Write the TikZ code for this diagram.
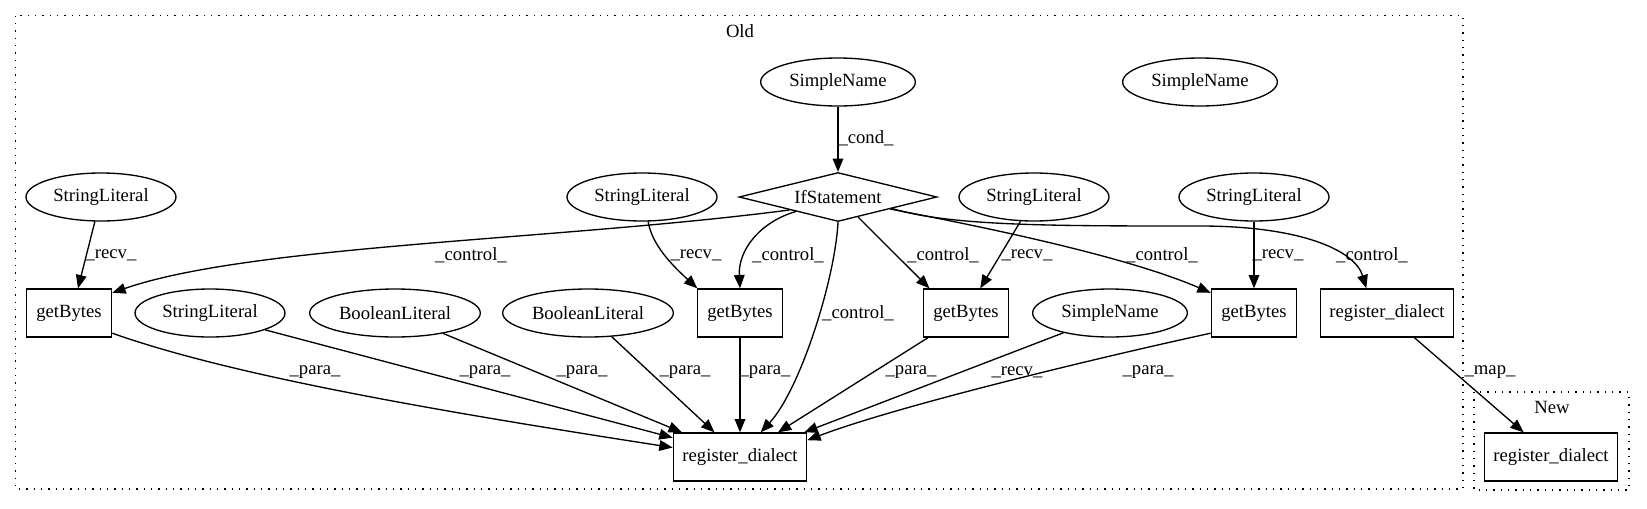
\documentclass[tikz,border=0pt]{standalone}
\usepackage{fontspec}
\setmainfont{Liberation Serif}
\usetikzlibrary{shapes.geometric,arrows.meta}
\begin{document}
\begin{tikzpicture}[x=0.75pt,y=-0.75pt,
  font=\fontsize{14pt}{16pt}\selectfont,
  ell/.style={draw, ellipse, line width=1pt, minimum height=36pt, inner sep=0pt},
  snode/.style={ell, minimum width=116pt},
  slnode/.style={ell, minimum width=112.5pt},
  blnode/.style={ell, minimum width=128pt},
  box/.style={draw, rectangle, line width=1pt, minimum height=36pt, inner sep=0pt},
  gbnode/.style={box, minimum width=64pt},
  rdnode/.style={box, minimum width=100pt},
  dia/.style={draw, diamond, aspect=4, line width=1pt, inner sep=0pt, minimum width=148.5pt, minimum height=36.75pt},
  lbl/.style={inner sep=0pt},
  arr/.style={line width=1pt, -{Triangle[length=10pt,width=8pt]}},
  cluster/.style={draw, line width=1pt, dash pattern=on 1pt off 4.5pt}
]
\useasboundingbox (0,0) rectangle (1647,508);
% clusters
\draw[cluster] (15.7,15.7) rectangle (1463,489);
\draw[cluster] (1474,392) rectangle (1629,490);
\node[lbl] (oldlbl) at (740,31) {Old};
\node[lbl] (newlbl) at (1552,407) {New};
% nodes
\node[snode] (sn1) at (838,82) {SimpleName};
\node[snode] (sn2) at (1200,82) {SimpleName};
\node[dia] (ifs) at (838,197) {IfStatement};
\node[slnode] (sl1) at (101,197) {StringLiteral};
\node[slnode] (sl2) at (642,197) {StringLiteral};
\node[slnode] (sl3) at (1034,197) {StringLiteral};
\node[slnode] (sl4) at (1254,197) {StringLiteral};
\node[gbnode] (gb1) at (69,313) {getBytes};
\node[slnode] (sl5) at (210,313) {StringLiteral};
\node[blnode] (bl1) at (395,313) {BooleanLiteral};
\node[blnode] (bl2) at (588,313) {BooleanLiteral};
\node[gbnode] (gb2) at (740,313) {getBytes};
\node[gbnode] (gb3) at (966,313) {getBytes};
\node[snode] (sn3) at (1110,313) {SimpleName};
\node[gbnode] (gb4) at (1254,313) {getBytes};
\node[rdnode] (rdo) at (1387,313) {register\_dialect};
\node[rdnode] (rd) at (740,457) {register\_dialect};
\node[rdnode] (rdn) at (1551,457) {register\_dialect};
% edges
\draw[arr] (sn1.south) -- (ifs.north);
\node[lbl] (l1) at (866,138) {\_cond\_};
\draw[arr] (ifs.195) .. controls (560,240) and (250,245) .. (gb1.25);
\node[lbl] (l2) at (471,255) {\_control\_};
\draw[arr] (ifs.199) .. controls (760,222) and (738,250) .. (gb2.north);
\node[lbl] (l3) at (788,255) {\_control\_};
\draw[arr] (ifs.south) .. controls (835,280) and (800,390) .. (rd.50);
\node[lbl] (l4) at (858,313) {\_control\_};
\draw[arr] (ifs.-45) -- (gb3.146);
\node[lbl] (l5) at (943,255) {\_control\_};
\draw[arr] (ifs.-13) .. controls (1000,230) and (1130,258) .. (gb4.155);
\node[lbl] (l6) at (1162,255) {\_control\_};
\draw[arr] (ifs.-12) .. controls (950,226) and (1050,226) .. (1200,226) .. controls (1300,226) and (1355,250) .. (rdo.130);
\node[lbl] (l7) at (1372,255) {\_control\_};
\draw[arr] (sl1.256) -- (gb1.70);
\node[lbl] (l8) at (111,255) {\_recv\_};
\draw[arr] (sl2.-76) .. controls (652,245) and (672,265) .. (gb2.150);
\node[lbl] (l9) at (696,255) {\_recv\_};
\draw[arr] (sl3.241) -- (gb3.60);
\node[lbl] (l10) at (1027,255) {\_recv\_};
\draw[arr] (sl4.south) -- (gb4.north);
\node[lbl] (l11) at (1278,255) {\_recv\_};
\draw[arr] (gb1.-25) .. controls (230,375) and (430,410) .. (rd.172);
\node[lbl] (l12) at (315,372) {\_para\_};
\draw[arr] (sl5.-17) -- (rd.164);
\node[lbl] (l13) at (485,372) {\_para\_};
\draw[arr] (bl1.-23) -- (rd.157);
\node[lbl] (l14) at (582,372) {\_para\_};
\draw[arr] (bl2.-45) -- (rd.136);
\node[lbl] (l15) at (685,372) {\_para\_};
\draw[arr] (gb2.south) -- (rd.north);
\node[lbl] (l16) at (765,372) {\_para\_};
\draw[arr] (gb3.213) -- (rd.33);
\node[lbl] (l17) at (911,372) {\_para\_};
\draw[arr] (sn3.203) -- (rd.21);
\node[lbl] (l18) at (1017,372) {\_recv\_};
\draw[arr] (gb4.205) .. controls (1110,355) and (900,405) .. (rd.14);
\node[lbl] (l19) at (1148,372) {\_para\_};
\draw[arr] (rdo.-42) -- (rdn.138);
\node[lbl] (l20) at (1490,372) {\_map\_};
\end{tikzpicture}
\end{document}
